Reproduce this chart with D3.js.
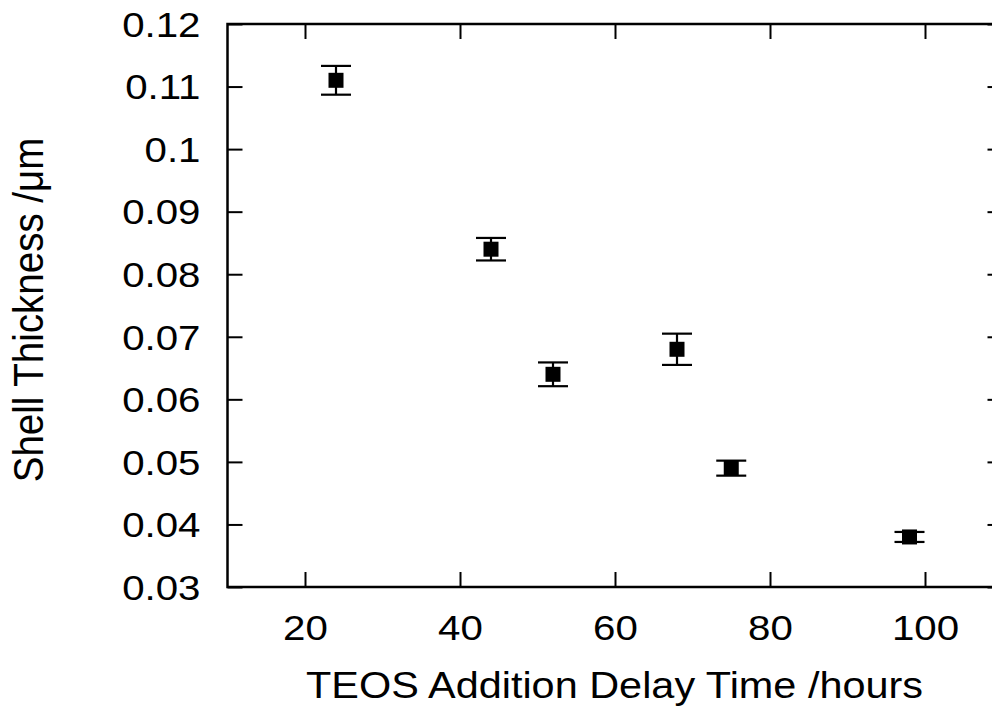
<!DOCTYPE html>
<html>
<head>
<meta charset="utf-8">
<script src="https://cdn.jsdelivr.net/npm/d3@7"></script>
<style>
  html, body { margin: 0; padding: 0; background: #fff; }
  svg { display: block; }
  text { font-family: "Liberation Sans", Arial, Helvetica, sans-serif; fill: #000; }
</style>
</head>
<body>
<svg id="chart" width="992" height="707"></svg>
<script>
// ---- data ----
const delayHours = [24, 44, 52, 68, 75, 98];
const shellThickness = [0.111, 0.084, 0.064, 0.068, 0.049, 0.038];
const thicknessError = [0.0023, 0.0018, 0.0019, 0.0025, 0.0012, 0.0008];
const xTicks = [20, 40, 60, 80, 100];
const yTicks = [0.03, 0.04, 0.05, 0.06, 0.07, 0.08, 0.09, 0.10, 0.11, 0.12];
const xLabel = "TEOS Addition Delay Time /hours";
const yLabel = "Shell Thickness /\u03bcm";

(function () {
// ---- layout ----
const svg = d3.select("#chart");
const pl = 227.5, pr = 1002.5, pt = 24, pb = 587;
const x = d3.scaleLinear().domain([10, 110]).range([pl, pr]);
const y = d3.scaleLinear().domain([0.03, 0.12]).range([pb, pt]);
const sx = 1.15;
const tickFont = 35, labelFont = 37;

// frame
svg.append("rect")
  .attr("x", pl).attr("y", pt)
  .attr("width", pr - pl).attr("height", pb - pt)
  .attr("fill", "none").attr("stroke", "#000").attr("stroke-width", 2.5);

// axes
const fmtY = d => (Math.abs(d - 0.1) < 1e-9 ? "0.1" : d3.format(".2f")(d));
const gx = svg.append("g").attr("transform", `translate(0,${pb})`)
  .call(d3.axisBottom(x).tickValues(xTicks).tickSize(-15).tickFormat(d3.format("d")));
const gy = svg.append("g").attr("transform", `translate(${pl},0)`)
  .call(d3.axisLeft(y).tickValues(yTicks).tickSize(-15).tickFormat(fmtY));
const gxt = svg.append("g").attr("transform", `translate(0,${pt})`)
  .call(d3.axisTop(x).tickValues(xTicks).tickSize(-15).tickFormat(""));
const gyr = svg.append("g").attr("transform", `translate(${pr},0)`)
  .call(d3.axisRight(y).tickValues(yTicks).tickSize(-15).tickFormat(""));

[gx, gy, gxt, gyr].forEach(g => {
  g.attr("font-family", null).attr("font-size", null);
  g.select(".domain").remove();
  g.selectAll(".tick line").attr("stroke", "#000").attr("stroke-width", 2);
});

gy.selectAll(".tick text")
  .attr("x", null).attr("dy", "0.35em")
  .attr("text-anchor", "end")
  .attr("fill", "#000")
  .attr("transform", `translate(-27,0) scale(${sx},1)`)
  .style("font-size", tickFont + "px");

gx.selectAll(".tick text")
  .attr("y", null).attr("dy", "0.35em")
  .attr("text-anchor", "middle")
  .attr("fill", "#000")
  .attr("transform", `translate(0,40.5) scale(${sx},1)`)
  .style("font-size", tickFont + "px");

// axis labels
svg.append("text")
  .attr("text-anchor", "middle")
  .attr("dy", "0.35em")
  .attr("transform", `translate(${(304 + 925) / 2},685) scale(1.12,1)`)
  .style("font-size", labelFont + "px")
  .text(xLabel);

svg.append("text")
  .attr("text-anchor", "middle")
  .attr("dy", "0.35em")
  .attr("transform", `translate(28,310) scale(1.1,1) rotate(-90)`)
  .style("font-size", "38.5px")
  .text(yLabel);

// error bars and markers
const pts = delayHours.map((h, i) => ({ h, v: shellThickness[i], e: thicknessError[i] }));
const capW = 15, box = 15;
const gp = svg.append("g").attr("stroke", "#000").attr("stroke-width", 2.2);
pts.forEach(p => {
  const cx = x(p.h);
  gp.append("line").attr("x1", cx).attr("x2", cx).attr("y1", y(p.v + p.e)).attr("y2", y(p.v - p.e));
  gp.append("line").attr("x1", cx - capW).attr("x2", cx + capW).attr("y1", y(p.v + p.e)).attr("y2", y(p.v + p.e));
  gp.append("line").attr("x1", cx - capW).attr("x2", cx + capW).attr("y1", y(p.v - p.e)).attr("y2", y(p.v - p.e));
});
svg.append("g").selectAll("rect").data(pts).join("rect")
  .attr("x", d => x(d.h) - box / 2).attr("y", d => y(d.v) - box / 2)
  .attr("width", box).attr("height", box).attr("fill", "#000");
})();
</script>
</body>
</html>
